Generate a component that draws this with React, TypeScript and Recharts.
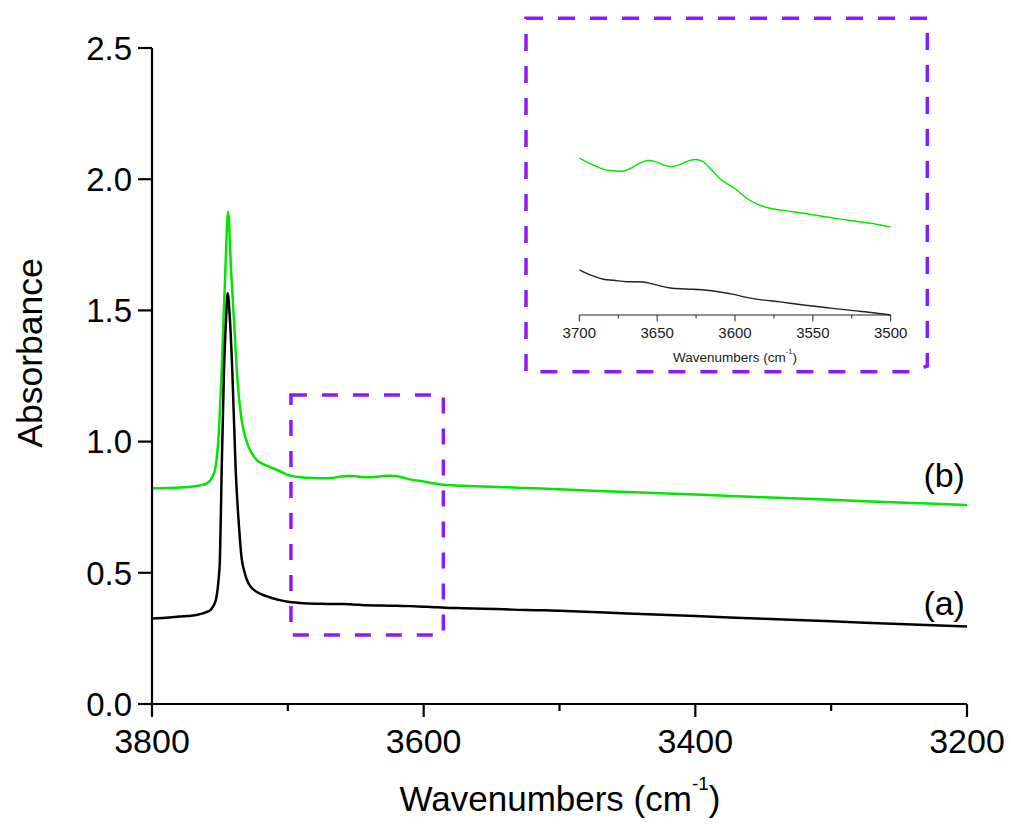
import React from 'react';
import { LineChart, Line, XAxis, YAxis, ReferenceArea, ReferenceDot } from 'recharts';

// ---- main spectrum (a) black ----
const wnA = [3800, 3790, 3780, 3770, 3765, 3760, 3757, 3755, 3753, 3751, 3750, 3748.7, 3747, 3745.5, 3744.3, 3742.6, 3740.9, 3738.4, 3736, 3734, 3732, 3730.3, 3727, 3723, 3717, 3711, 3705, 3700, 3693, 3685, 3678, 3670, 3659, 3654, 3648, 3642, 3631, 3620, 3610, 3601, 3592, 3584, 3571, 3556, 3541, 3524, 3511, 3500, 3450, 3400, 3350, 3300, 3250, 3200];
const absA = [0.326, 0.329, 0.333, 0.337, 0.342, 0.35, 0.358, 0.372, 0.396, 0.473, 0.549, 0.892, 1.273, 1.463, 1.565, 1.463, 1.273, 0.892, 0.68, 0.555, 0.505, 0.475, 0.445, 0.428, 0.413, 0.403, 0.395, 0.39, 0.386, 0.383, 0.382, 0.381, 0.381, 0.38, 0.378, 0.376, 0.375, 0.3745, 0.373, 0.371, 0.369, 0.367, 0.365, 0.363, 0.361, 0.358, 0.357, 0.355, 0.345, 0.335, 0.325, 0.315, 0.305, 0.295];

// ---- main spectrum (b) green ----
const wnB = [3800, 3790, 3780, 3770, 3765, 3760, 3757, 3755, 3753.6, 3751, 3748.7, 3746, 3744, 3741.8, 3739.5, 3737.6, 3736, 3734, 3731, 3729, 3726, 3723, 3718, 3713, 3706, 3700, 3690, 3681, 3672, 3668, 3662, 3656, 3650, 3644, 3640, 3635, 3631, 3626, 3621, 3616, 3610, 3599, 3592, 3586, 3577, 3567, 3556, 3545, 3534, 3524, 3513, 3500, 3450, 3400, 3350, 3300, 3250, 3200];
const absB = [0.822, 0.823, 0.825, 0.829, 0.833, 0.84, 0.853, 0.872, 0.892, 1.02, 1.273, 1.654, 1.876, 1.654, 1.45, 1.273, 1.17, 1.082, 1.012, 0.981, 0.951, 0.93, 0.914, 0.903, 0.888, 0.873, 0.864, 0.861, 0.86, 0.861, 0.866, 0.869, 0.868, 0.865, 0.864, 0.866, 0.868, 0.87, 0.869, 0.864, 0.856, 0.847, 0.84, 0.836, 0.833, 0.831, 0.829, 0.827, 0.825, 0.823, 0.821, 0.818, 0.808, 0.798, 0.788, 0.778, 0.768, 0.758];

// ---- inset (zoomed 3700-3500) ----
const insetWnA = [3700, 3693, 3684.5, 3678, 3669.5, 3659, 3654.5, 3648, 3641.6, 3631, 3620, 3609.7, 3601, 3592.5, 3584, 3571, 3556, 3541, 3524, 3511, 3500];
const insetAbsA = [0.3902, 0.3863, 0.3829, 0.3821, 0.381, 0.3808, 0.3797, 0.3777, 0.3761, 0.3753, 0.3745, 0.373, 0.3711, 0.3688, 0.367, 0.3652, 0.3628, 0.3607, 0.3584, 0.3568, 0.355];
const insetWnB = [3700, 3689, 3681, 3672, 3668, 3662, 3656, 3650.5, 3644, 3640, 3635.5, 3631, 3626, 3621.5, 3616, 3610, 3599, 3592.5, 3586, 3577.4, 3566.7, 3556, 3545, 3534.4, 3523.7, 3513, 3500];
const insetAbsB = [0.4774, 0.4709, 0.4678, 0.4672, 0.4688, 0.473, 0.4756, 0.4745, 0.4714, 0.4709, 0.4724, 0.4748, 0.4763, 0.4753, 0.4696, 0.4618, 0.4527, 0.4461, 0.4417, 0.4383, 0.4363, 0.4344, 0.4323, 0.4302, 0.4284, 0.4266, 0.4238];

// ---- ticks ----
const mainXTicks = [3800, 3700, 3600, 3500, 3400, 3300, 3200];
const mainXMajor = [3800, 3600, 3400, 3200];
const mainYTicks = [0, 0.5, 1.0, 1.5, 2.0, 2.5];
const insetXTicks = [3700, 3675, 3650, 3625, 3600, 3575, 3550, 3525, 3500];
const insetXMajor = [3700, 3650, 3600, 3550, 3500];

// ---- zoom region marked on main chart ----
const zoomX = [3697.7, 3585.5];
const zoomY = [0.263, 1.178];

// ---- curve labels ----
const noteText = ['(a)', '(b)'];
const noteWn = [3201.5, 3201.5];
const noteAbs = [0.339, 0.827];

const FONT = '"Liberation Sans", Arial, Helvetica, sans-serif';
const PURPLE = '#8C1AFF';
const GREEN = '#00E600';

const dataA = wnA.map((wn, i) => ({ wn, abs: absA[i] }));
const dataB = wnB.map((wn, i) => ({ wn, abs: absB[i] }));
const insetA = insetWnA.map((wn, i) => ({ wn, abs: insetAbsA[i] }));
const insetB = insetWnB.map((wn, i) => ({ wn, abs: insetAbsB[i] }));

function MainXTick(props: any) {
  const { x, y, payload } = props;
  const major = mainXMajor.includes(payload.value);
  return (
    <g>
      <line x1={x} x2={x} y1={y} y2={y + (major ? 13 : 7)} stroke="#000" strokeWidth={2.2} />
      {major && (
        <text x={x} y={y + 49} textAnchor="middle" fontSize={34} fontFamily={FONT} fill="#000">
          {payload.value}
        </text>
      )}
    </g>
  );
}

function InsetXTick(props: any) {
  const { x, y, payload } = props;
  const major = insetXMajor.includes(payload.value);
  return (
    <g>
      <line x1={x} x2={x} y1={y} y2={y + (major ? 6.5 : 3.5)} stroke="#222" strokeWidth={1} />
      {major && (
        <text x={x} y={y + 22.5} textAnchor="middle" fontSize={15} fontFamily={FONT} fill="#1a1a1a">
          {payload.value}
        </text>
      )}
    </g>
  );
}

function NoteLabel(props: any) {
  const { viewBox, text } = props;
  return (
    <text x={viewBox.x} y={viewBox.y} textAnchor="end" fontSize={34} fontFamily={FONT} fill="#000">
      {text}
    </text>
  );
}

export default function App() {
  return (
    <div style={{ position: 'absolute', left: 0, top: 0, width: 1011, height: 825, background: '#fff', fontFamily: FONT }}>
      <div style={{ position: 'absolute', left: 0, top: 0 }}>
        <LineChart width={1011} height={825} margin={{ top: 48, right: 44, left: 0, bottom: 0 }}>
          <XAxis
            dataKey="wn"
            type="number"
            domain={[3200, 3800]}
            reversed
            allowDataOverflow
            ticks={mainXTicks}
            interval={0}
            tick={<MainXTick />}
            tickLine={false}
            tickSize={0}
            tickMargin={0}
            height={121}
            axisLine={{ stroke: '#000', strokeWidth: 2.2 }}
          />
          <YAxis
            type="number"
            domain={[0, 2.5]}
            ticks={mainYTicks}
            interval={0}
            width={152}
            tickSize={14}
            tickMargin={6}
            tickLine={{ stroke: '#000', strokeWidth: 2.2 }}
            axisLine={{ stroke: '#000', strokeWidth: 2.2 }}
            tick={{ fontSize: 33, fill: '#000', fontFamily: FONT }}
            tickFormatter={(v: number) => v.toFixed(1)}
          />
          <ReferenceArea
            x1={zoomX[0]}
            x2={zoomX[1]}
            y1={zoomY[0]}
            y2={zoomY[1]}
            fill="none"
            fillOpacity={0}
            stroke={PURPLE}
            strokeWidth={3.5}
            strokeDasharray="16 15"
          />
          <Line data={dataB} dataKey="abs" type="monotone" stroke={GREEN} strokeWidth={2.5} dot={false} activeDot={false} isAnimationActive={false} />
          <Line data={dataA} dataKey="abs" type="monotone" stroke="#000" strokeWidth={2.5} dot={false} activeDot={false} isAnimationActive={false} />
          {noteText.map((t, i) => (
            <ReferenceDot
              key={t}
              x={noteWn[i]}
              y={noteAbs[i]}
              r={0}
              fill="none"
              stroke="none"
              label={<NoteLabel text={t} />}
            />
          ))}
        </LineChart>
      </div>

      <div style={{ position: 'absolute', left: 520, top: 10 }}>
        <LineChart width={420} height={370} margin={{ top: 50, right: 49.3, left: 59.3, bottom: 0 }}>
          <XAxis
            dataKey="wn"
            type="number"
            domain={[3500, 3700]}
            reversed
            allowDataOverflow
            ticks={insetXTicks}
            interval={0}
            tick={<InsetXTick />}
            tickLine={false}
            tickSize={0}
            tickMargin={0}
            height={65}
            axisLine={{ stroke: '#222', strokeWidth: 1.2 }}
          />
          <YAxis hide type="number" domain={[0.355, 0.554]} />
          <Line data={insetB} dataKey="abs" type="monotone" stroke={GREEN} strokeWidth={1.4} dot={false} activeDot={false} isAnimationActive={false} />
          <Line data={insetA} dataKey="abs" type="monotone" stroke="#222" strokeWidth={1.4} dot={false} activeDot={false} isAnimationActive={false} />
        </LineChart>
      </div>

      <svg width={1011} height={825} style={{ position: 'absolute', left: 0, top: 0, pointerEvents: 'none' }}>
        <path
          d="M526,18.3 H927.3 V366 L913,371.7 H526 Z"
          fill="none"
          stroke={PURPLE}
          strokeWidth={3.5}
          strokeDasharray="17 15"
        />
        <text x={42} y={353} transform="rotate(-90 42 353)" textAnchor="middle" fontSize={35.5} fontFamily={FONT} fill="#000">
          Absorbance
        </text>
        <text x={560} y={811} textAnchor="middle" fontSize={35} fontFamily={FONT} fill="#000">
          Wavenumbers (cm
          <tspan fontSize={19} dy={-21}>-1</tspan>
          <tspan dy={21}>)</tspan>
        </text>
        <text x={735} y={361.7} textAnchor="middle" fontSize={13.5} fontFamily={FONT} fill="#1a1a1a">
          Wavenumbers (cm
          <tspan fontSize={7.5} dy={-8}>-1</tspan>
          <tspan dy={8}>)</tspan>
        </text>
      </svg>
    </div>
  );
}
